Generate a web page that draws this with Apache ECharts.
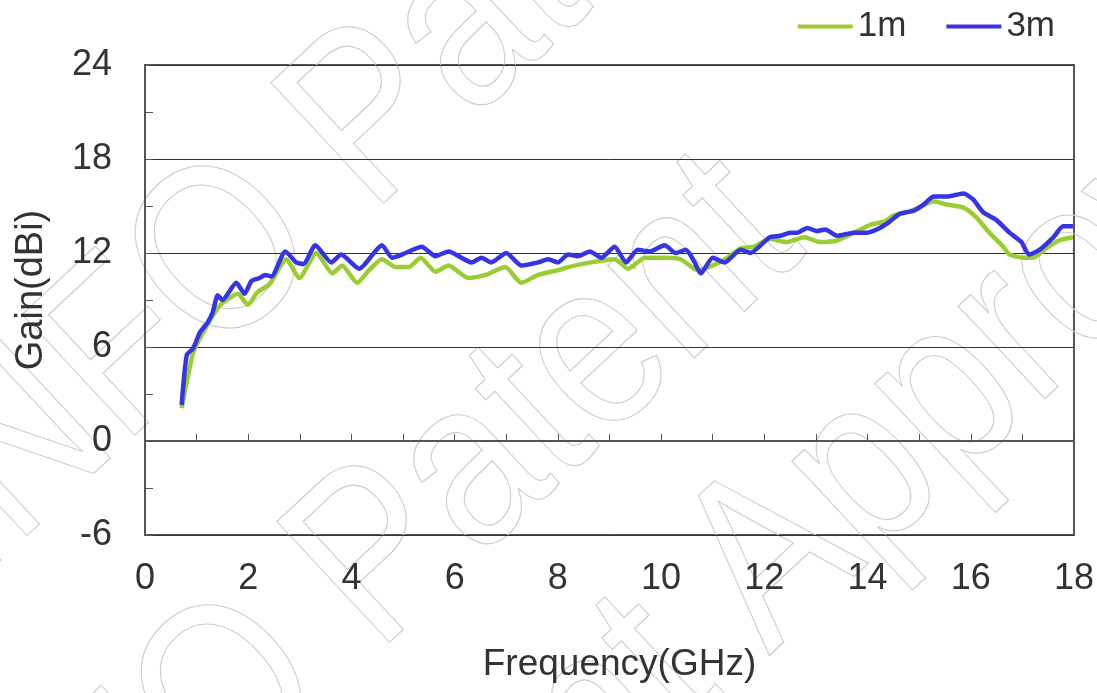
<!DOCTYPE html>
<html>
<head>
<meta charset="utf-8">
<script src="https://cdn.jsdelivr.net/npm/echarts@6/dist/echarts.min.js"></script>
<style>
  html, body { margin: 0; padding: 0; background: #fff; }
  #chart { width: 1097px; height: 693px; }
</style>
</head>
<body>
<div id="chart"></div>
<script>
// 1m measurement
const freq1m = [0.71, 0.93, 1.12, 1.39, 1.5, 1.8, 1.99, 2.18, 2.41, 2.74, 2.99, 3.32, 3.63, 3.82, 4.11, 4.34,
  4.59, 4.86, 5.11, 5.34, 5.63, 5.88, 6.27, 6.6, 6.98, 7.29, 7.62, 8.0, 8.2, 8.64, 9.1, 9.36, 9.69, 10.07,
  10.38, 10.71, 11.0, 11.29, 11.54, 11.8, 12.1, 12.44, 12.77, 13.08, 13.41, 13.74, 14.05, 14.32, 14.51,
  14.76, 15.0, 15.28, 15.53, 15.86, 16.1, 16.36, 16.63, 16.75, 17.02, 17.21, 17.46, 17.71, 17.98];
const gain1m = [2.1, 5.6, 6.9, 8.4, 8.8, 9.4, 8.7, 9.5, 10.0, 11.6, 10.4, 12.0, 10.7, 11.2, 10.1, 10.9,
  11.6, 11.1, 11.1, 11.7, 10.8, 11.2, 10.4, 10.6, 11.1, 10.1, 10.6, 10.9, 11.1, 11.4, 11.6, 11.0, 11.7, 11.7,
  11.6, 10.9, 11.2, 11.7, 12.3, 12.4, 12.9, 12.7, 13.0, 12.7, 12.8, 13.3, 13.8, 14.0, 14.4,
  14.6, 14.9, 15.3, 15.1, 14.9, 14.3, 13.3, 12.4, 11.9, 11.7, 11.7, 12.3, 12.8, 13.0];

// 3m measurement
const freq3m = [0.71, 0.81, 0.93, 1.06, 1.22, 1.31, 1.41, 1.5, 1.77, 1.93, 2.06, 2.22, 2.33, 2.45, 2.72, 2.93,
  3.07, 3.3, 3.61, 3.8, 4.15, 4.59, 4.79, 5.05, 5.36, 5.63, 5.88, 6.33, 6.52, 6.71, 7.0, 7.29, 7.62, 7.81,
  8.0, 8.2, 8.39, 8.62, 8.84, 9.1, 9.32, 9.55, 9.78, 10.07, 10.28, 10.48, 10.65, 10.77, 11.0, 11.23, 11.54,
  11.73, 12.1, 12.31, 12.5, 12.64, 12.83, 13.02, 13.18, 13.41, 13.74, 13.99, 14.24, 14.43, 14.62, 14.9,
  15.09, 15.28, 15.53, 15.86, 16.05, 16.24, 16.5, 16.75, 16.98, 17.13, 17.33, 17.6, 17.79, 17.98];
const gain3m = [2.3, 5.5, 5.9, 6.9, 7.6, 8.2, 9.3, 9.0, 10.1, 9.4, 10.2, 10.4, 10.6, 10.5, 12.1, 11.4,
  11.3, 12.5, 11.4, 11.9, 11.0, 12.5, 11.7, 12.0, 12.4, 11.8, 12.1, 11.4, 11.7, 11.4, 12.0, 11.2, 11.4, 11.6,
  11.4, 11.9, 11.8, 12.1, 11.7, 12.4, 11.4, 12.2, 12.1, 12.5, 12.0, 12.2, 11.4, 10.7, 11.7, 11.4, 12.2,
  12.0, 13.0, 13.1, 13.3, 13.3, 13.6, 13.4, 13.5, 13.1, 13.3, 13.3, 13.6, 14.0, 14.5, 14.7,
  15.1, 15.6, 15.6, 15.8, 15.4, 14.6, 14.1, 13.3, 12.7, 11.9, 12.2, 13.0, 13.7, 13.7];

const seriesNames = ["1m", "3m"];
const xTicks = [0, 2, 4, 6, 8, 10, 12, 14, 16, 18];
const yTicks = [-6, 0, 6, 12, 18, 24];

const pairs = (xs, ys) => xs.map((x, i) => [x, ys[i]]);

// outlined watermark text, three diagonal rows
const wmAngle = 43 * Math.PI / 180;
const wmRows = [
  { text: "INFO Patent Approved", x: 10, y: 625 },
  { text: "INFO Patent", x: 16, y: 1064 },
  { text: "INFO Patent Approved", x: -65, y: 1507 },
];
const watermark = wmRows.map((r) => ({
  type: "text",
  x: r.x,
  y: r.y,
  rotation: wmAngle,
  scaleX: 0.85,
  silent: true,
  z: 0,
  style: {
    text: r.text,
    font: "240px 'Liberation Sans', Arial, sans-serif",
    fill: "rgba(0,0,0,0)",
    stroke: "#cdcdcd",
    lineWidth: 1.2,
    textVerticalAlign: "bottom",
    textAlign: "left",
  },
}));

const chart = echarts.init(document.getElementById("chart"));

const axisFont = "'Liberation Sans', Arial, sans-serif";

chart.setOption({
  animation: false,
  backgroundColor: "#fff",
  textStyle: { fontFamily: axisFont },
  graphic: watermark,
  legend: {
    data: seriesNames,
    right: 37,
    top: 4,
    icon: "rect",
    itemWidth: 55,
    itemHeight: 4,
    itemGap: 40,
    textStyle: { fontSize: 35, color: "#333", fontFamily: axisFont },
  },
  grid: {
    left: 145,
    right: 19,
    top: 65,
    bottom: 158,
    show: true,
    borderColor: "#555",
    borderWidth: 2,
  },
  xAxis: {
    type: "value",
    min: xTicks[0],
    max: xTicks[xTicks.length - 1],
    interval: 2,
    name: "Frequency(GHz)",
    nameLocation: "middle",
    nameGap: 111,
    nameTextStyle: { fontSize: 37, color: "#333", padding: [0, 0, 0, 20] },
    axisLine: { show: true, lineStyle: { color: "#555", width: 2 } },
    axisTick: { show: true, inside: true, length: 7, lineStyle: { color: "#555" } },
    minorTick: { show: true, splitNumber: 2, length: 7, lineStyle: { color: "#555" } },
    axisLabel: { fontSize: 36, color: "#333", margin: 26 },
    splitLine: { show: false },
  },
  yAxis: {
    type: "value",
    min: yTicks[0],
    max: yTicks[yTicks.length - 1],
    interval: 6,
    name: "Gain(dBi)",
    nameLocation: "middle",
    nameGap: 94,
    nameTextStyle: { fontSize: 38, color: "#333", padding: [0, 0, 0, 20] },
    axisLine: { show: true, lineStyle: { color: "#555", width: 2 } },
    axisTick: { show: true, inside: true, length: 8, lineStyle: { color: "#555" } },
    minorTick: { show: true, splitNumber: 2, length: 8, lineStyle: { color: "#555" } },
    axisLabel: { fontSize: 36, color: "#333", margin: 33 },
    splitLine: { show: true, lineStyle: { color: "#333", width: 1 } },
  },
  series: [
    {
      name: seriesNames[0],
      type: "line",
      data: pairs(freq1m, gain1m),
      showSymbol: false,
      smooth: 0.2,
      color: "#9acd32",
      lineStyle: { width: 4.5, color: "#9acd32" },
      z: 3,
    },
    {
      name: seriesNames[1],
      type: "line",
      data: pairs(freq3m, gain3m),
      showSymbol: false,
      smooth: 0.2,
      color: "#3535e6",
      lineStyle: { width: 4.5, color: "#3535e6" },
      z: 4,
    },
  ],
});
</script>
</body>
</html>
